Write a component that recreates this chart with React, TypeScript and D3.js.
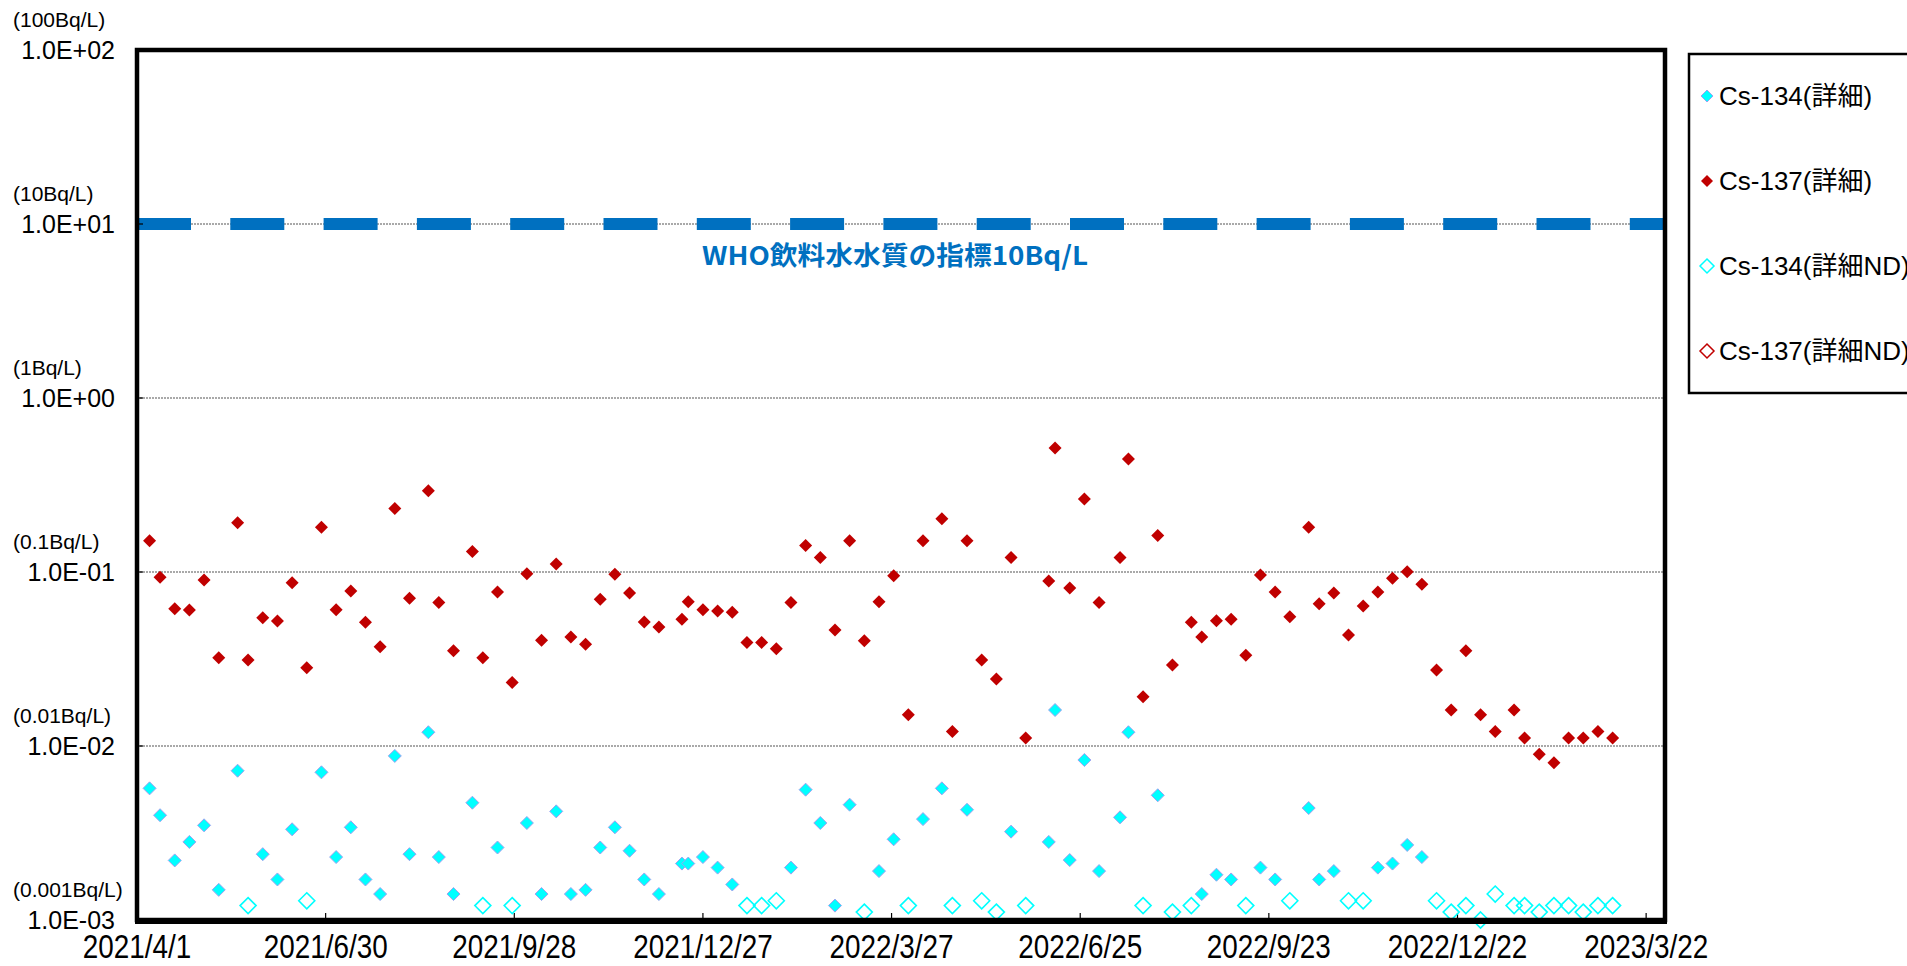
import React from 'react';
import * as d3 from 'd3';

// 採取日（週1回）
const dates = [
  '2021-04-07', '2021-04-12', '2021-04-19', '2021-04-26', '2021-05-03', '2021-05-10', '2021-05-19', '2021-05-24',
  '2021-05-31', '2021-06-07', '2021-06-14', '2021-06-21', '2021-06-28', '2021-07-05', '2021-07-12', '2021-07-19',
  '2021-07-26', '2021-08-02', '2021-08-09', '2021-08-18', '2021-08-23', '2021-08-30', '2021-09-08', '2021-09-13',
  '2021-09-20', '2021-09-27', '2021-10-04', '2021-10-11', '2021-10-18', '2021-10-25', '2021-11-01', '2021-11-08',
  '2021-11-15', '2021-11-22', '2021-11-29', '2021-12-06', '2021-12-17', '2021-12-20', '2021-12-27', '2022-01-03',
  '2022-01-10', '2022-01-17', '2022-01-24', '2022-01-31', '2022-02-07', '2022-02-14', '2022-02-21', '2022-02-28',
  '2022-03-07', '2022-03-14', '2022-03-21', '2022-03-28', '2022-04-04', '2022-04-11', '2022-04-20', '2022-04-25',
  '2022-05-02', '2022-05-09', '2022-05-16', '2022-05-23', '2022-05-30', '2022-06-10', '2022-06-13', '2022-06-20',
  '2022-06-27', '2022-07-04', '2022-07-14', '2022-07-18', '2022-07-25', '2022-08-01', '2022-08-08', '2022-08-17',
  '2022-08-22', '2022-08-29', '2022-09-05', '2022-09-12', '2022-09-19', '2022-09-26', '2022-10-03', '2022-10-12',
  '2022-10-17', '2022-10-24', '2022-10-31', '2022-11-07', '2022-11-14', '2022-11-21', '2022-11-28', '2022-12-05',
  '2022-12-12', '2022-12-19', '2022-12-26', '2023-01-02', '2023-01-09', '2023-01-18', '2023-01-23', '2023-01-30',
  '2023-02-06', '2023-02-13', '2023-02-20', '2023-02-27', '2023-03-06',
];

// Cs-137(詳細) Bq/L
const cs137 = [
  0.151, 0.0933, 0.0615, 0.0605, 0.0899, 0.0322, 0.192, 0.0312, 0.0546, 0.0523, 0.0868, 0.0282, 0.181, 0.0607,
  0.0778, 0.0514, 0.0372, 0.232, 0.0706, 0.293, 0.0667, 0.0353, 0.131, 0.0322, 0.0767, 0.0232, 0.0977, 0.0405,
  0.111, 0.0423, 0.0384, 0.0697, 0.097, 0.0757, 0.0516, 0.0483, 0.0535, 0.0675, 0.0607, 0.0597, 0.0587, 0.0394,
  0.0394, 0.0362, 0.0667, 0.142, 0.121, 0.0464, 0.151, 0.0403, 0.0675, 0.0953, 0.0151, 0.151, 0.202, 0.0121,
  0.151, 0.0312, 0.0243, 0.121, 0.0111, 0.0888, 0.516, 0.0809, 0.263, 0.0667, 0.121, 0.446, 0.0192, 0.162,
  0.0292, 0.0514, 0.0423, 0.0525, 0.0535, 0.0332, 0.0962, 0.0767, 0.0553, 0.181, 0.0658, 0.0757, 0.0435, 0.0638,
  0.0767, 0.092, 0.1004, 0.085, 0.0273, 0.0161, 0.0353, 0.0151, 0.0121, 0.0161, 0.0111, 0.00896, 0.00802, 0.0111,
  0.0111, 0.0121, 0.0111,
];

// Cs-134(詳細) Bq/L（不検出は null）
const cs134 = [
  0.00571, 0.004, 0.0022, 0.00281, 0.0035, 0.00149, 0.00721, null, 0.00239, 0.00171, 0.00332, null, 0.00706, 0.0023,
  0.00341, 0.00171, 0.00141, 0.00877, 0.00239, 0.012, 0.0023, 0.00141, 0.00472, null, 0.00261, null, 0.00361, 0.00141,
  0.00421, 0.00141, 0.00149, 0.00261, 0.00341, 0.0025, 0.00171, 0.00141, 0.00211, 0.00211, 0.0023, 0.002, 0.0016, null,
  null, null, 0.002, 0.00561, 0.00361, 0.00121, 0.0046, null, 0.00191, 0.00291, null, 0.0038, 0.00571, null,
  0.0043, null, null, 0.00322, null, 0.00281, 0.0161, 0.00221, 0.00831, 0.00191, 0.00389, 0.012, null, 0.00521,
  null, null, 0.00141, 0.00182, 0.00171, null, 0.002, 0.00171, null, 0.0044, 0.00171, 0.00191, null, null,
  0.002, 0.00211, 0.0027, 0.0023, null, null, null, null, null, null, null, null, null, null,
  null, null, null,
];

// Cs-134(詳細ND) 検出下限値 Bq/L（検出は null）
const cs134Nd = [
  null, null, null, null, null, null, null, 0.00121, null, null, null, 0.00129, null, null,
  null, null, null, null, null, null, null, null, null, 0.00121, null, 0.00121, null, null,
  null, null, null, null, null, null, null, null, null, null, null, null, null, 0.00121,
  0.00121, 0.00129, null, null, null, null, null, 0.00111, null, null, 0.00121, null, null, 0.00121,
  null, 0.00129, 0.00111, null, 0.00121, null, null, null, null, null, null, null, 0.00121, null,
  0.00111, 0.00121, null, null, null, 0.00121, null, null, 0.00129, null, null, null, 0.00129, 0.00129,
  null, null, null, null, 0.00129, 0.00111, 0.00121, 0.001, 0.00141, 0.00121, 0.00121, 0.00111, 0.00121, 0.00121,
  0.00111, 0.00121, 0.00121,
];

const yTickValues = [100, 10, 1, 0.1, 0.01, 0.001];
const yTickLabels = ['1.0E+02', '1.0E+01', '1.0E+00', '1.0E-01', '1.0E-02', '1.0E-03'];
const yUnitLabels = ['(100Bq/L)', '(10Bq/L)', '(1Bq/L)', '(0.1Bq/L)', '(0.01Bq/L)', '(0.001Bq/L)'];
const gridValues = [10, 1, 0.1, 0.01];
const whoLimit = 10;
const whoLabel = 'WHO飲料水水質の指標10Bq/L';
const legendLabels = ['Cs-134(詳細)', 'Cs-137(詳細)', 'Cs-134(詳細ND)', 'Cs-137(詳細ND)'];

const W = 1907;
const H = 966;
const margin = { top: 50, right: 242, bottom: 46, left: 137 };
const FONT = "'Liberation Sans', Arial, 'Noto Sans CJK JP', sans-serif";
const CYAN = '#00FFFF';
const RED = '#C00000';
const BLUE = '#0070C0';

const parse = d3.timeParse('%Y-%m-%d');
const fmt = d3.timeFormat('%Y/%-m/%-d');

const diamond = (r: number) => `M0,${-r}L${r},0L0,${r}L${-r},0Z`;

export default function App() {
  const start = new Date(2021, 3, 1);
  const end = new Date(2023, 2, 31);
  const x = d3.scaleTime().domain([start, end]).range([margin.left, W - margin.right]);
  const y = d3.scaleLog().domain([0.001, 100]).range([H - margin.bottom, margin.top]);

  // 90日ごとの目盛
  const xTicks = d3.range(0, 9).map(i => d3.timeDay.offset(start, i * 90));

  const pts = dates.map((d, i) => ({
    date: parse(d) as Date,
    c137: cs137[i],
    c134: cs134[i],
    nd: cs134Nd[i],
  }));

  const x0 = margin.left;
  const x1 = W - margin.right;
  const yBottom = H - margin.bottom;

  const legendY = [96, 181, 266, 351];

  return (
    <svg width={W} height={H} style={{ position: 'absolute', left: 0, top: 0, background: '#fff' }} fontFamily={FONT}>
      <rect x={0} y={0} width={W} height={H} fill="#fff" />

      {/* グリッド線 */}
      {gridValues.map(v => (
        <line key={v} x1={x0} x2={x1} y1={y(v)} y2={y(v)} stroke="#555" strokeWidth={1.2} strokeDasharray="2 1" />
      ))}

      {/* WHO指標 */}
      <line x1={x0} x2={x1} y1={y(whoLimit)} y2={y(whoLimit)} stroke={BLUE} strokeWidth={12} strokeDasharray="54 39.3" />
      <text x={895} y={265} textAnchor="middle" fill={BLUE} fontWeight="bold" fontSize={26}
        fontFamily="'Noto Sans CJK JP', 'Liberation Sans', sans-serif" textLength={386} lengthAdjust="spacingAndGlyphs">
        {whoLabel}
      </text>

      {/* 軸目盛 */}
      {xTicks.slice(1).map((t, i) => (
        <line key={i} x1={x(t)} x2={x(t)} y1={yBottom} y2={yBottom - 7} stroke="#000" strokeWidth={1.2} />
      ))}
      {gridValues.map(v => (
        <line key={'lt' + v} x1={x0} x2={x0 + 6} y1={y(v)} y2={y(v)} stroke="#000" strokeWidth={1.2} />
      ))}

      {/* Cs-134(詳細) */}
      {pts.filter(p => p.c134 != null).map((p, i) => (
        <path key={'a' + i} d={diamond(6.5)} transform={`translate(${x(p.date)},${y(p.c134 as number)})`}
          fill={CYAN} stroke="#A0A0F0" strokeWidth={1} />
      ))}
      {/* Cs-137(詳細) */}
      {pts.map((p, i) => (
        <path key={'b' + i} d={diamond(6.5)} transform={`translate(${x(p.date)},${y(p.c137)})`} fill={RED} />
      ))}
      {/* Cs-134(詳細ND) */}
      {pts.filter(p => p.nd != null).map((p, i) => (
        <path key={'c' + i} d={diamond(8)} transform={`translate(${x(p.date)},${y(p.nd as number)})`}
          fill="none" stroke={CYAN} strokeWidth={1.6} />
      ))}

      {/* 枠 */}
      <rect x={x0} y={margin.top} width={x1 - x0} height={yBottom - margin.top} fill="none" stroke="#000" strokeWidth={4.5} />
      <line x1={x0 - 2} x2={x1 + 2} y1={yBottom + 1} y2={yBottom + 1} stroke="#000" strokeWidth={6} />

      {/* Y軸ラベル */}
      {yTickValues.map((v, i) => (
        <g key={'y' + v}>
          <text x={13} y={y(v) - 23} fontSize={21} fill="#000">{yUnitLabels[i]}</text>
          <text x={115} y={y(v) + 9} fontSize={25} textAnchor="end" fill="#000">{yTickLabels[i]}</text>
        </g>
      ))}

      {/* X軸ラベル */}
      {xTicks.map((t, i) => (
        <text key={'x' + i} transform={`translate(${x(t)},958) scale(0.82,1)`} textAnchor="middle" fontSize={34} fill="#000">
          {fmt(t)}
        </text>
      ))}

      {/* 凡例 */}
      <rect x={1689} y={54} width={260} height={339} fill="#fff" stroke="#000" strokeWidth={2.5} />
      {legendLabels.map((label, i) => {
        const cy = legendY[i];
        const isNd = i >= 2;
        const color = i % 2 === 0 ? CYAN : RED;
        return (
          <g key={label}>
            <path d={diamond(isNd ? 7 : 6)} transform={`translate(1707,${cy})`}
              fill={isNd ? 'none' : color}
              stroke={isNd ? color : (i === 0 ? '#A0A0F0' : 'none')}
              strokeWidth={isNd ? 1.5 : 1} />
            <text x={1719} y={cy + 9} fontSize={26} fill="#000">{label}</text>
          </g>
        );
      })}
    </svg>
  );
}
